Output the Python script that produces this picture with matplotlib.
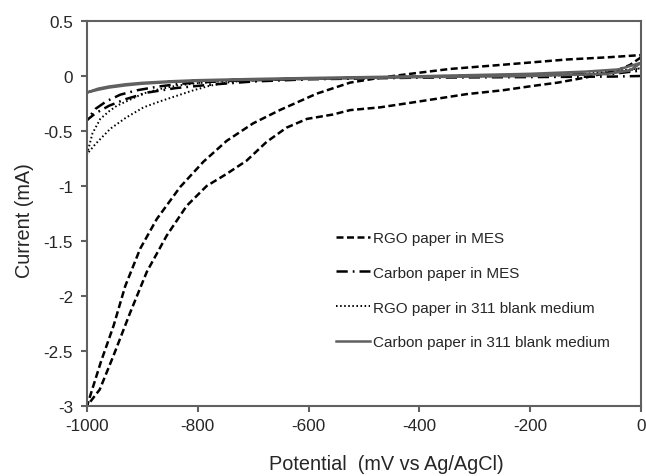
import matplotlib
matplotlib.use("Agg")
import matplotlib.pyplot as plt

plt.rcParams['font.family'] = ['Liberation Sans', 'DejaVu Sans']
plt.rcParams['axes.unicode_minus'] = False

# RGO paper in MES (closed CV loop)
rgo_mes_v = [0, -20, -44, -98, -150, -195, -250, -315, -405, -471, -525, -556,
             -603, -640, -676, -712, -748, -784, -820, -856, -892, -922, -952, -977, -1000,
             -995, -975, -952, -931, -904, -874, -832, -790, -748, -700, -652, -603,
             -585, -525, -466, -405, -345, -255, -134, -60, 0]
rgo_mes_i = [0.17, 0.10, 0.05, -0.012, -0.06, -0.09, -0.13, -0.165, -0.235, -0.285, -0.31, -0.35,
             -0.39, -0.47, -0.60, -0.77, -0.89, -1.0, -1.18, -1.45, -1.78, -2.15, -2.54, -2.85, -3.0,
             -2.92, -2.6, -2.27, -1.91, -1.57, -1.30, -1.01, -0.78, -0.59, -0.43, -0.31, -0.20,
             -0.16, -0.06, -0.012, 0.027, 0.064, 0.10, 0.15, 0.17, 0.19]

# Carbon paper in MES
c_mes_v = [0, -50, -200, -400, -600, -700, -780, -840, -890, -930, -960, -985, -1000,
           -985, -965, -940, -910, -870, -830, -750, -600, -400, -200, -50, 0]
c_mes_i = [0.0, -0.005, -0.01, -0.015, -0.03, -0.05, -0.08, -0.11, -0.15, -0.21, -0.27, -0.34, -0.40,
           -0.30, -0.23, -0.17, -0.13, -0.095, -0.07, -0.045, -0.025, -0.005, 0.01, 0.02, 0.05]

# RGO paper in 311 blank medium
rgo_311_v = [0, -50, -100, -200, -400, -600, -650, -718, -748, -778, -808, -838, -868, -898,
             -930, -958, -985, -1000,
             -990, -976, -960, -946, -920, -899, -870, -838, -800, -750, -600, -400, -200, -100, 0]
rgo_311_i = [0.07, 0.03, 0.01, 0.0, -0.01, -0.025, -0.03, -0.043, -0.06, -0.088, -0.13, -0.18, -0.23, -0.285,
             -0.38, -0.48, -0.62, -0.71,
             -0.52, -0.39, -0.32, -0.27, -0.21, -0.16, -0.12, -0.088, -0.065, -0.045, -0.025, -0.005,
             0.01, 0.02, 0.07]

# Carbon paper in 311 blank medium
c_311_v = [0, -20, -60, -200, -400, -600, -700, -800, -850, -900, -930, -960, -980, -1000,
           -980, -960, -930, -900, -850, -800, -700, -600, -400, -200, -100, -40, 0]
c_311_i = [0.12, 0.05, 0.02, 0.0, -0.01, -0.025, -0.033, -0.045, -0.055, -0.07, -0.085, -0.105, -0.125, -0.15,
           -0.115, -0.095, -0.075, -0.062, -0.048, -0.038, -0.027, -0.018, -0.002, 0.02, 0.04, 0.06, 0.12]

labels = ["RGO paper in MES", "Carbon paper in MES",
          "RGO paper in 311 blank medium", "Carbon paper in 311 blank medium"]

x_ticks = [-1000, -800, -600, -400, -200, 0]
y_ticks = [0.5, 0, -0.5, -1, -1.5, -2, -2.5, -3]

fig = plt.figure(figsize=(6.46, 4.77), dpi=100)
ax = fig.add_axes([87/646, 1-407/477, (641-87)/646, (407-22)/477])

ax.plot(rgo_mes_v, rgo_mes_i, color='black', lw=1.8, dashes=(2.8, 1.4), label=labels[0])
ax.plot(c_mes_v, c_mes_i, color='black', lw=1.8, dashes=(4.5, 2.0, 0.7, 2.0), label=labels[1])
ax.plot(rgo_311_v, rgo_311_i, color='black', lw=1.4, dashes=(0.8, 1.3), label=labels[2])
ax.plot(c_311_v, c_311_i, color='#606060', lw=1.8, label=labels[3])

ax.set_xlim(-1000, 0)
ax.set_ylim(-3, 0.5)
ax.set_xticks(x_ticks)
ax.set_yticks(y_ticks)
ax.set_xticklabels([f"{v:g}" for v in x_ticks])
ax.set_yticklabels([f"{v:g}" for v in y_ticks])

spine_c = '#606060'
for s in ax.spines.values():
    s.set_color(spine_c)
    s.set_linewidth(1.5)
ax.tick_params(axis='both', direction='out', length=4, width=1.5, color=spine_c,
               labelsize=12.3, labelcolor='#262626')
ax.tick_params(axis='x', pad=5)
ax.tick_params(axis='y', pad=6)

ax.set_xlabel("Potential  (mV vs Ag/AgCl)", fontsize=14.3, color='#262626')
ax.set_ylabel("Current (mA)", fontsize=14.3, color='#262626')
ax.xaxis.set_label_coords(0.541, -0.125)
ax.yaxis.set_label_coords(-0.096, 0.483)

leg = ax.legend(loc='upper left', bbox_to_anchor=(336/646, 1-232/477),
                bbox_transform=fig.transFigure, frameon=False, fontsize=11,
                handlelength=2.2, handletextpad=0.2, labelspacing=1.36,
                borderpad=0, borderaxespad=0)
for t in leg.get_texts():
    t.set_color('#262626')

fig.savefig("out.png", dpi=100)
